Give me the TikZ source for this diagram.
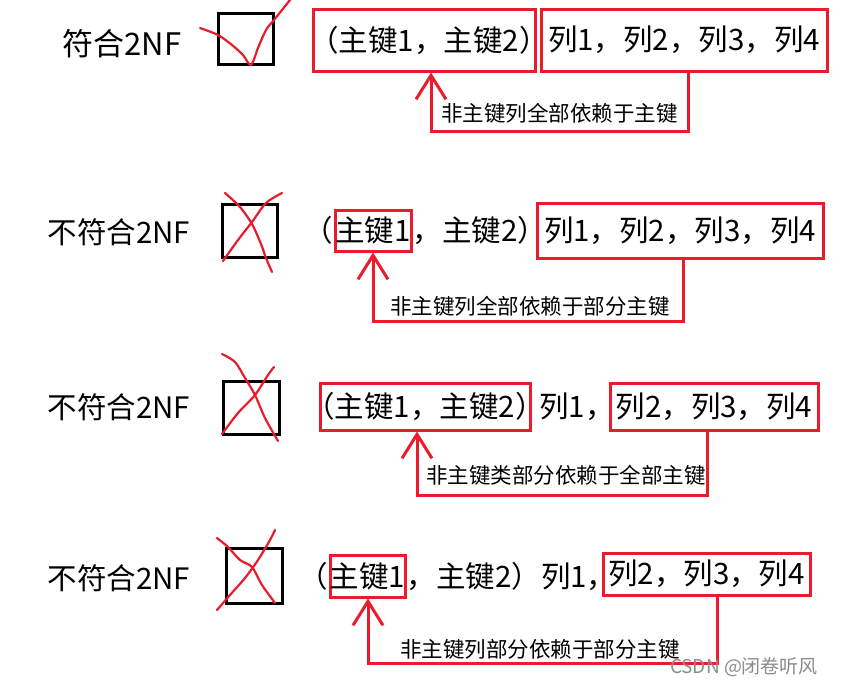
\documentclass[tikz,border=0pt]{standalone}
\usepackage{fontspec}
\setmainfont{Noto Sans CJK SC}
\usetikzlibrary{arrows.meta}
\definecolor{redc}{HTML}{E81C2A}
\newcommand{\mainf}{\fontsize{29.5}{33}\selectfont}
\newcommand{\lblf}{\fontsize{21.5}{25}\selectfont}
\newcommand{\zw}[2][0pt]{\makebox[0pt]{\hspace*{#1}#2}}
\tikzset{
 rbox/.style={draw=redc, line width=3pt, inner sep=0pt, font=\mainf},
 sq/.style={draw=black, line width=3pt, inner sep=0pt},
 conn/.style={draw=redc, line width=3pt, -{Straight Barb[length=24pt,width=30pt]}},
 lbl/.style={font=\lblf, inner sep=0pt, anchor=west},
 txt/.style={font=\mainf, inner sep=0pt},
 pen/.style={draw=redc, line width=2.2pt, line cap=round, line join=round},
 wm/.style={font=\fontsize{19}{22}\selectfont, text=black!45, inner sep=0pt}
}
\begin{document}
\begin{tikzpicture}[x={(1pt,0)}, y={(0,-1pt)}]
\path[use as bounding box, fill=white] (0,0) rectangle (865,686);

% Row 1
\node[txt, font=\fontsize{31}{35}\selectfont] (n1) at (122,44) {符合2NF};
\node[sq, minimum width=55, minimum height=51] (s1) at (245.5,38.5) {};
\draw[pen] plot[smooth] coordinates {(200,28) (218,35) (232,45) (243,55) (251,65) (258,48) (266,30) (274,20) (290,0)};
\node[rbox, minimum width=222, minimum height=62] (k1) at (424,40) {\zw[10pt]{（主键1，主键2）}};
\node[rbox, minimum width=286, minimum height=62] (c1) at (684,40) {\zw{列1，列2，列3，列4}};
\coordinate (t1) at (431,131); \coordinate (u1) at (688,131);
\draw[conn] (c1.south -| u1) -- (u1) -- (t1) -- (k1.south -| t1);
\node[lbl] (l1) at (441,113) {非主键列全部依赖于主键};

% Row 2
\node[txt] (n2) at (119,232) {不符合2NF};
\node[sq, minimum width=55, minimum height=53] (s2) at (249.5,230.5) {};
\draw[pen] plot[smooth] coordinates {(225,193) (240,207) (252,224) (261,244) (266,258) (272,272)};
\draw[pen] plot[smooth] coordinates {(223,261) (238,240) (252,222) (266,203) (282,193)};
\node[rbox, minimum width=76, minimum height=41] (k2) at (373,230.5) {\zw{主键1}};
\node[txt, anchor=east] (p2a) at (k2.west) {（};
\node[txt, anchor=west] (p2b) at (k2.east) {，主键2）};
\node[rbox, minimum width=286, minimum height=55] (c2) at (680,230.5) {\zw{列1，列2，列3，列4}};
\coordinate (t2) at (373,321); \coordinate (u2) at (683,321);
\draw[conn] (c2.south -| u2) -- (u2) -- (t2) -- (k2.south -| t2);
\node[lbl] (l2) at (390,306) {非主键列全部依赖于部分主键};

% Row 3
\node[txt] (n3) at (119,407) {不符合2NF};
\node[sq, minimum width=56, minimum height=53] (s3) at (251,407.5) {};
\draw[pen] plot[smooth] coordinates {(222,354) (235,362) (245,378) (255,395) (265,418) (278,441)};
\draw[pen] plot[smooth] coordinates {(222,434) (238,413) (255,395) (268,375) (274,367)};
\node[rbox, minimum width=210, minimum height=47] (k3) at (425,406.5) {\zw{（主键1，主键2）}};
\node[txt] (p3) at (577,407) {列1，};
\node[rbox, minimum width=208, minimum height=47] (c3) at (714,406.5) {\zw{列2，列3，列4}};
\coordinate (t3) at (417,495); \coordinate (u3) at (707,495);
\draw[conn] (c3.south -| u3) -- (u3) -- (t3) -- (k3.south -| t3);
\node[lbl] (l3) at (426,475) {非主键类部分依赖于全部主键};

% Row 4
\node[txt] (n4) at (119,578) {不符合2NF};
\node[sq, minimum width=56, minimum height=55] (s4) at (254,575.5) {};
\draw[pen] plot[smooth] coordinates {(217,538) (228,547) (240,560) (252,567) (262,585) (275,603)};
\draw[pen] plot[smooth] coordinates {(217,610) (230,595) (245,578) (258,560) (270,540) (275,530)};
\node[rbox, minimum width=75, minimum height=42] (k4) at (367.5,576) {\zw{主键1}};
\node[txt, anchor=east] (p4a) at (k4.west) {（};
\node[txt, anchor=west] (p4b) at (k4.east) {，主键2）列1，};
\node[rbox, minimum width=207, minimum height=42] (c4) at (706.5,574) {\zw{列2，列3，列4}};
\coordinate (t4) at (368,663); \coordinate (u4) at (717,663);
\draw[conn] (c4.south -| u4) -- (u4) -- (t4) -- (k4.south -| t4);
\node[lbl] (l4) at (400,649) {非主键列部分依赖于部分主键};

\node[wm] (w) at (744,667) {CSDN @闭卷听风};
\end{tikzpicture}
\end{document}
